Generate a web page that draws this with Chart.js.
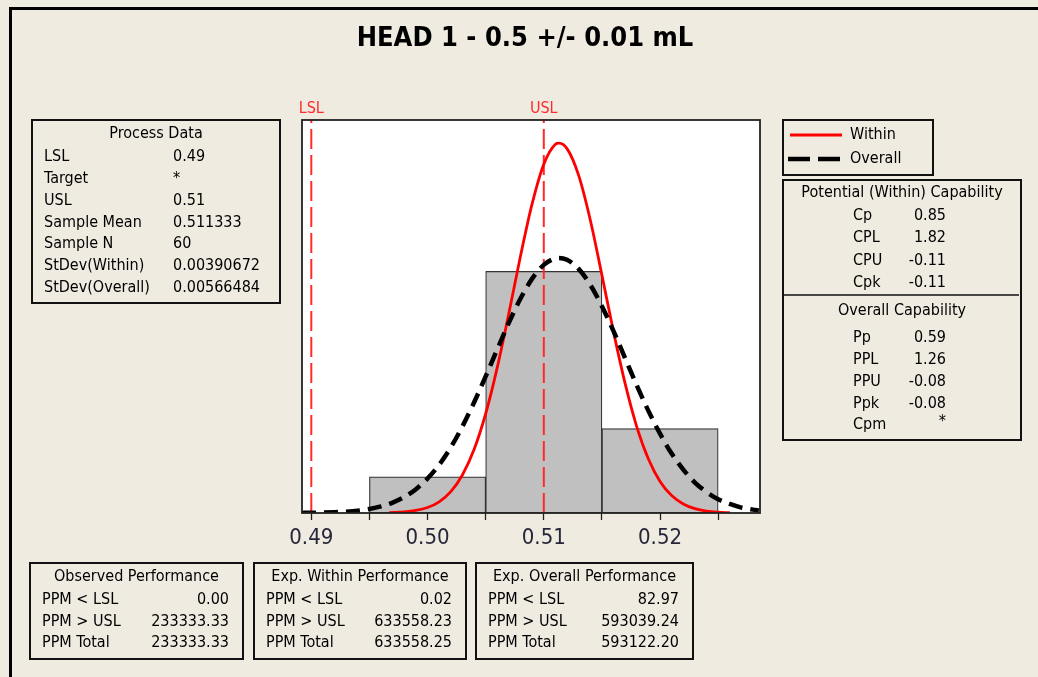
<!DOCTYPE html>
<html>
<head>
<meta charset="utf-8">
<script src="https://cdn.jsdelivr.net/npm/chart.js@4.4.1/dist/chart.umd.min.js"></script>
<style>
  body { margin: 0; background: #EFEBE1; }
  #capChart { display: block; }
</style>
</head>
<body>
<canvas id="capChart" width="1038" height="677"></canvas>
<script>
//Histogram bins (centres) and densities
const binCenters = [0.50, 0.51, 0.52];
const binDensity = [10.0, 66.7, 23.3];

//Within (red) curve
const withinX = [0.4967, 0.498, 0.499, 0.500, 0.501, 0.502, 0.503, 0.504, 0.505, 0.506, 0.507, 0.508, 0.509, 0.510, 0.511, 0.5113,
                 0.512, 0.513, 0.514, 0.515, 0.516, 0.517, 0.518, 0.519, 0.520, 0.521, 0.522, 0.523, 0.524, 0.525, 0.526];
const withinY = [0.09, 0.30, 0.70, 1.52, 3.09, 5.89, 10.5, 17.5, 27.4, 40.2, 55.2, 71.0, 85.4, 96.3, 101.8, 102.1,
                 100.6, 93.2, 80.9, 65.7, 50.0, 35.7, 23.8, 14.9, 8.7, 4.8, 2.5, 1.2, 0.53, 0.23, 0.09];

//Overall (black dashed) curve
const overallX = [0.4892, 0.490, 0.491, 0.492, 0.493, 0.494, 0.495, 0.496, 0.497, 0.498, 0.499, 0.500, 0.501, 0.502, 0.503,
                  0.504, 0.505, 0.506, 0.507, 0.508, 0.509, 0.510, 0.511, 0.5113, 0.512, 0.513, 0.514, 0.515, 0.516, 0.517,
                  0.518, 0.519, 0.520, 0.521, 0.522, 0.523, 0.524, 0.525, 0.526, 0.527, 0.528, 0.5285];
const overallY = [0.03, 0.06, 0.11, 0.21, 0.37, 0.65, 1.10, 1.81, 2.87, 4.41, 6.58, 9.52, 13.3, 18.1, 23.9,
                  30.5, 37.7, 45.2, 52.6, 59.2, 64.7, 68.5, 70.3, 70.4, 69.9, 67.4, 63.0, 57.1, 50.2, 42.7,
                  35.2, 28.2, 21.9, 16.4, 12.0, 8.4, 5.8, 3.8, 2.5, 1.5, 0.93, 0.71];

//Spec limits
const specX = [0.49, 0.51];
const specLabels = ['LSL', 'USL'];

//x axis ticks (bin edges get a tick without a label)
const xTickValues = [0.49, 0.495, 0.50, 0.505, 0.51, 0.515, 0.52, 0.525];
const xTickLabels = ['0.49', '', '0.50', '', '0.51', '', '0.52', ''];

//Text tables
const processLabels = ['LSL', 'Target', 'USL', 'Sample Mean', 'Sample N', 'StDev(Within)', 'StDev(Overall)'];
const processValues = ['0.49', '*', '0.51', '0.511333', '60', '0.00390672', '0.00566484'];
const withinCapLabels = ['Cp', 'CPL', 'CPU', 'Cpk'];
const withinCapValues = ['0.85', '1.82', '-0.11', '-0.11'];
const overallCapLabels = ['Pp', 'PPL', 'PPU', 'Ppk', 'Cpm'];
const overallCapValues = ['0.59', '1.26', '-0.08', '-0.08', '*'];
const perfTitles = ['Observed Performance', 'Exp. Within Performance', 'Exp. Overall Performance'];
const perfLabels = ['PPM < LSL', 'PPM > USL', 'PPM Total'];
const observedPerf = ['0.00', '233333.33', '233333.33'];
const expWithinPerf = ['0.02', '633558.23', '633558.25'];
const expOverallPerf = ['82.97', '593039.24', '593122.20'];

const chartTitle = 'HEAD 1 - 0.5 +/- 0.01 mL';
const fontFam = '"DejaVu Sans Condensed", "DejaVu Sans", sans-serif';
const pageBg = '#EFEBE1';
const specColor = '#ff2a2a';

function toPoints(xs, ys){
    return xs.map((x, i) => ({x: x, y: ys[i]}));
}

function box(ctx, x1, y1, x2, y2){
    ctx.strokeStyle = '#111';
    ctx.lineWidth = 2;
    ctx.strokeRect(x1, y1, x2 - x1, y2 - y1);
}

function text(ctx, str, x, y, align){
    ctx.textAlign = align || 'left';
    ctx.fillText(str, x, y);
}

//Backgrounds, frame, and all the tables round the plot
const paperPlugin = {
    id: 'paper',
    beforeDraw(chart){
        const ctx = chart.ctx, a = chart.chartArea;
        ctx.save();
        ctx.fillStyle = pageBg;
        ctx.fillRect(0, 0, chart.width, chart.height);
        ctx.fillStyle = '#000';
        ctx.fillRect(9, 7, chart.width - 9, 3);
        ctx.fillRect(9, 7, 3, chart.height - 7);
        ctx.fillStyle = '#fff';
        ctx.fillRect(a.left, a.top, a.right - a.left, a.bottom - a.top);
        ctx.restore();
    },
    afterDatasetsDraw(chart){
        const ctx = chart.ctx, a = chart.chartArea;
        ctx.save();
        ctx.strokeStyle = '#222';
        ctx.lineWidth = 1.8;
        ctx.strokeRect(a.left, a.top, a.right - a.left, a.bottom - a.top);
        ctx.restore();
    },
    afterDraw(chart){
        const ctx = chart.ctx;
        const xs = chart.scales.x;
        ctx.save();
        ctx.textBaseline = 'middle';

        //title
        ctx.fillStyle = '#000';
        ctx.font = 'bold 27px ' + fontFam;
        text(ctx, chartTitle, 525, 39, 'center');

        //spec labels above the plot
        ctx.fillStyle = specColor;
        ctx.font = '16px ' + fontFam;
        specX.forEach((v, i) => text(ctx, specLabels[i], xs.getPixelForValue(v), 109, 'center'));

        ctx.fillStyle = '#000';
        ctx.font = '16px ' + fontFam;

        //process data
        box(ctx, 32, 120, 280, 303);
        text(ctx, 'Process Data', 156, 134, 'center');
        processLabels.forEach((l, i) => {
            text(ctx, l, 44, 157 + i * 21.8);
            text(ctx, processValues[i], 173, 157 + i * 21.8);
        });

        //legend
        const dsW = chart.data.datasets[0], dsO = chart.data.datasets[1];
        box(ctx, 783, 120, 933, 175);
        ctx.strokeStyle = dsW.borderColor;
        ctx.lineWidth = dsW.borderWidth;
        ctx.beginPath(); ctx.moveTo(790, 135); ctx.lineTo(842, 135); ctx.stroke();
        ctx.strokeStyle = dsO.borderColor;
        ctx.lineWidth = dsO.borderWidth;
        ctx.setLineDash([22, 8]);
        ctx.beginPath(); ctx.moveTo(788, 159); ctx.lineTo(842, 159); ctx.stroke();
        ctx.setLineDash([]);
        text(ctx, dsW.label, 850, 135);
        text(ctx, dsO.label, 850, 159);

        //capability
        box(ctx, 783, 180, 1021, 440);
        text(ctx, 'Potential (Within) Capability', 902, 193, 'center');
        withinCapLabels.forEach((l, i) => {
            text(ctx, l, 853, 216 + i * 22.3);
            text(ctx, withinCapValues[i], 946, 216 + i * 22.3, 'right');
        });
        ctx.beginPath(); ctx.moveTo(783, 295); ctx.lineTo(1019, 295);
        ctx.lineWidth = 1.5; ctx.strokeStyle = '#111'; ctx.stroke();
        text(ctx, 'Overall Capability', 902, 311, 'center');
        overallCapLabels.forEach((l, i) => {
            text(ctx, l, 853, 338 + i * 21.8);
            text(ctx, overallCapValues[i], 946, 338 + i * 21.8 - (overallCapValues[i] === '*' ? 3 : 0), 'right');
        });

        //performance tables
        const perfVals = [observedPerf, expWithinPerf, expOverallPerf];
        const perfBox = [[30, 243], [254, 466], [476, 693]];
        perfVals.forEach((vals, k) => {
            const [x1, x2] = perfBox[k];
            box(ctx, x1, 563, x2, 659);
            text(ctx, perfTitles[k], (x1 + x2) / 2, 577, 'center');
            perfLabels.forEach((l, i) => {
                text(ctx, l, x1 + 12, 600 + i * 21.5);
                text(ctx, vals[i], x2 - 14, 600 + i * 21.5, 'right');
            });
        });
        ctx.restore();
    }
};

document.addEventListener('DOMContentLoaded', function(){
    const ctx = document.getElementById('capChart').getContext('2d');
    new Chart(ctx, {
        data: {
            datasets: [
                {
                    type: 'line', label: 'Within', order: 1,
                    data: toPoints(withinX, withinY),
                    borderColor: '#ff0000', borderWidth: 2.8,
                    pointRadius: 0, cubicInterpolationMode: 'monotone', fill: false
                },
                {
                    type: 'line', label: 'Overall', order: 0,
                    data: toPoints(overallX, overallY),
                    borderColor: '#000000', borderWidth: 4.5, borderDash: [14, 8],
                    pointRadius: 0, cubicInterpolationMode: 'monotone', fill: false
                },
                {
                    type: 'line', label: 'LSL', order: 2,
                    data: [{x: specX[0], y: 0}, {x: specX[0], y: 200}],
                    borderColor: specColor, borderWidth: 2, borderDash: [20, 6], pointRadius: 0
                },
                {
                    type: 'line', label: 'USL', order: 2,
                    data: [{x: specX[1], y: 0}, {x: specX[1], y: 200}],
                    borderColor: specColor, borderWidth: 2, borderDash: [20, 6], pointRadius: 0
                },
                {
                    type: 'bar', label: 'Histogram', order: 3,
                    data: toPoints(binCenters, binDensity),
                    backgroundColor: '#C0C0C0', borderColor: '#333', borderWidth: 1.2,
                    borderSkipped: false, barThickness: 'flex',
                    barPercentage: 1, categoryPercentage: 1
                }
            ]
        },
        options: {
            responsive: false,
            devicePixelRatio: 1,
            animation: false,
            layout: { padding: { left: 302, right: 278, top: 120, bottom: 124 } },
            plugins: { legend: { display: false }, tooltip: { enabled: false }, title: { display: false } },
            scales: {
                x: {
                    type: 'linear', min: 0.4892, max: 0.5286, offset: false,
                    afterBuildTicks: s => { s.ticks = xTickValues.map(v => ({value: v})); },
                    afterFit: s => { s.height = 40; },
                    grid: { offset: false, drawOnChartArea: false, drawTicks: true, tickLength: 7, tickColor: '#222', tickWidth: 1.3 },
                    border: { display: false },
                    ticks: {
                        autoSkip: false, maxRotation: 0, padding: 5, color: '#26263a',
                        font: { family: fontFam, size: 22 },
                        callback: (v, i) => xTickLabels[i]
                    }
                },
                y: { type: 'linear', min: 0, max: 108.5, display: false }
            }
        },
        plugins: [paperPlugin]
    });
});
</script>
</body>
</html>
